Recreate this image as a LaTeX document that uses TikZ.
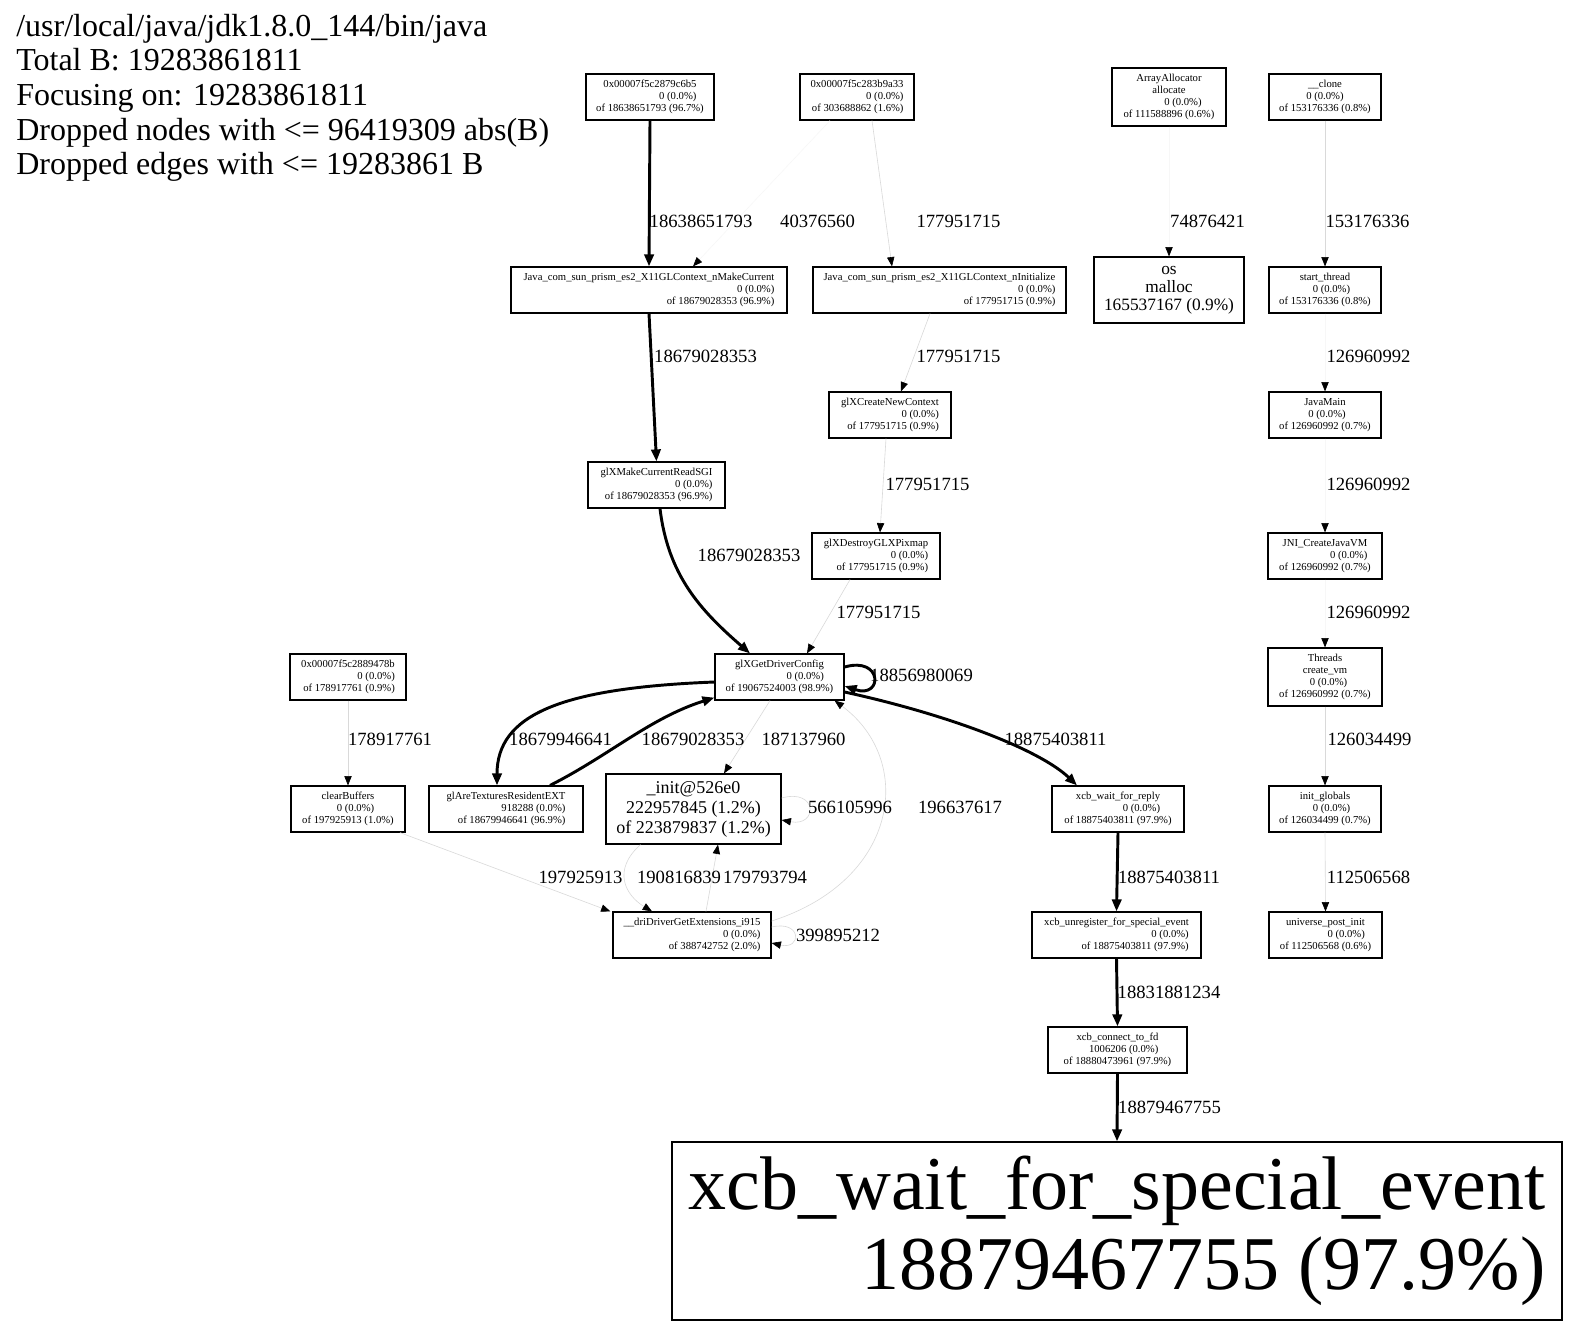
\documentclass[tikz,border=0pt]{standalone}
\usepackage{fontspec}
\setmainfont{Liberation Serif}
\usetikzlibrary{arrows.meta,calc}
\begin{document}
\begin{tikzpicture}[x=0.75pt,y=-0.75pt,
  box/.style={draw, line width=0.9pt, align=center, inner sep=0pt, font=\fontsize{8}{9}\selectfont},
  sz/.style 2 args={minimum width=#1*0.75pt, minimum height=#2*0.75pt},
  mid/.style={draw, line width=0.9pt, align=center, inner sep=0pt, font=\fontsize{13.5}{15}\selectfont},
  hdr/.style={anchor=base west, inner sep=0pt, font=\fontsize{24}{26}\selectfont},
  lab/.style={inner sep=0pt, font=\fontsize{14}{16}\selectfont},
  thk/.style={line width=2.2pt, -{Triangle[length=9pt,width=7pt]}},
  thn/.style={line width=0.45pt, draw=black!15, -{Triangle[length=7pt,width=5.5pt,color=black]}},
  ghost/.style={line width=0.45pt, draw=black!3, -{Triangle[length=7pt,width=5.5pt,color=black]}},
]
\useasboundingbox (0,0) rectangle (1569,1327);
\fill[white] (0,0) rectangle (1569,1327);

% header
\node[hdr] (h1) at (16,37) {/usr/local/java/jdk1.8.0\_144/bin/java};
\node[hdr] (h2) at (16,71) {Total B: 19283861811};
\node[hdr] (h3) at (16,106) {Focusing on: 19283861811};
\node[hdr] (h4) at (16,141) {Dropped nodes with <= 96419309 abs(B)};
\node[hdr] (h5) at (16,175) {Dropped edges with <= 19283861 B};

% nodes
\node[box,sz={128}{46}] (n1) at (650,97) {0x00007f5c2879c6b5\\\hfill 0 (0.0\%)\\\hfill of 18638651793 (96.7\%)};
\node[box,sz={114}{46}] (n2) at (857,97) {0x00007f5c283b9a33\\\hfill 0 (0.0\%)\\\hfill of 303688862 (1.6\%)};
\node[box,sz={114}{58}] (n3) at (1169,97) {ArrayAllocator\\allocate\\\hfill 0 (0.0\%)\\\hfill of 111588896 (0.6\%)};
\node[box,sz={112}{46}] (n4) at (1325,97) {\_\_clone\\\hfill 0 (0.0\%)\\\hfill of 153176336 (0.8\%)};
\node[box,sz={276}{46}] (n5) at (649,290) {Java\_com\_sun\_prism\_es2\_X11GLContext\_nMakeCurrent\\\hfill 0 (0.0\%)\\\hfill of 18679028353 (96.9\%)};
\node[box,sz={253}{46}] (n6) at (939.5,290) {Java\_com\_sun\_prism\_es2\_X11GLContext\_nInitialize\\\hfill 0 (0.0\%)\\\hfill of 177951715 (0.9\%)};
\node[box,sz={150}{66},font=\fontsize{13}{13.5}\selectfont] (n7) at (1169,290) {os\\malloc\\\hfill 165537167 (0.9\%)};
\node[box,sz={112}{46}] (n8) at (1325,290) {start\_thread\\\hfill 0 (0.0\%)\\\hfill of 153176336 (0.8\%)};
\node[box,sz={122}{46}] (n9) at (890,415) {glXCreateNewContext\\\hfill 0 (0.0\%)\\\hfill of 177951715 (0.9\%)};
\node[box,sz={112}{46}] (n10) at (1325,415) {JavaMain\\\hfill 0 (0.0\%)\\\hfill of 126960992 (0.7\%)};
\node[box,sz={137}{46}] (n11) at (656.5,485) {glXMakeCurrentReadSGI\\\hfill 0 (0.0\%)\\\hfill of 18679028353 (96.9\%)};
\node[box,sz={128}{46}] (n12) at (876,556) {glXDestroyGLXPixmap\\\hfill 0 (0.0\%)\\\hfill of 177951715 (0.9\%)};
\node[box,sz={114}{46}] (n13) at (1325,556) {JNI\_CreateJavaVM\\\hfill 0 (0.0\%)\\\hfill of 126960992 (0.7\%)};
\node[box,sz={116}{46}] (n14) at (348,677) {0x00007f5c2889478b\\\hfill 0 (0.0\%)\\\hfill of 178917761 (0.9\%)};
\node[box,sz={129}{46}] (n15) at (779.5,677) {glXGetDriverConfig\\\hfill 0 (0.0\%)\\\hfill of 19067524003 (98.9\%)};
\node[box,sz={114}{58}] (n16) at (1325,677) {Threads\\create\_vm\\\hfill 0 (0.0\%)\\\hfill of 126960992 (0.7\%)};
\node[box,sz={114}{46}] (n17) at (348,809) {clearBuffers\\\hfill 0 (0.0\%)\\\hfill of 197925913 (1.0\%)};
\node[box,sz={154}{46}] (n18) at (506,809) {glAreTexturesResidentEXT\\\hfill 918288 (0.0\%)\\\hfill of 18679946641 (96.9\%)};
\node[mid,sz={175}{70}] (n19) at (693.5,809) {\_init@526e0\\\hfill 222957845 (1.2\%)\\\hfill of 223879837 (1.2\%)};
\node[box,sz={132}{46}] (n20) at (1118,809) {xcb\_wait\_for\_reply\\\hfill 0 (0.0\%)\\\hfill of 18875403811 (97.9\%)};
\node[box,sz={112}{46}] (n21) at (1325,809) {init\_globals\\\hfill 0 (0.0\%)\\\hfill of 126034499 (0.7\%)};
\node[box,sz={158}{46}] (n22) at (692,935) {\_\_driDriverGetExtensions\_i915\\\hfill 0 (0.0\%)\\\hfill of 388742752 (2.0\%)};
\node[box,sz={169}{46}] (n23) at (1116.5,935) {xcb\_unregister\_for\_special\_event\\\hfill 0 (0.0\%)\\\hfill of 18875403811 (97.9\%)};
\node[box,sz={113}{46}] (n24) at (1325.5,935) {universe\_post\_init\\\hfill 0 (0.0\%)\\\hfill of 112506568 (0.6\%)};
\node[box,sz={139}{46}] (n25) at (1117.5,1050) {xcb\_connect\_to\_fd\\\hfill 1006206 (0.0\%)\\\hfill of 18880473961 (97.9\%)};
\node[box,sz={890}{178},font=\fontsize{57}{60}\selectfont] (n26) at (1117,1231) {xcb\_wait\_for\_special\_event\\\hfill 18879467755 (97.9\%)};

% edges
\draw[thk] (n1.south) -- (n5.north);
\draw[ghost] ($(n2.south)+(-27,0)$) -- ($(n5.north)+(44,0)$);
\draw[thn] ($(n2.south)+(15,0)$) -- ($(n6.north)+(-47.5,0)$);
\draw[ghost] (n3.south) -- (n7.north);
\draw[thn] (n4.south) -- (n8.north);
\draw[thk] (n5.south) -- (n11.north);
\draw[thn] ($(n6.south)+(-9.5,0)$) -- ($(n9.north)+(11,0)$);
\draw[ghost] (n8.south) -- (n10.north);
\draw[thn] ($(n9.south)+(-4,0)$) -- ($(n12.north)+(4,0)$);
\draw[ghost] (n10.south) -- (n13.north);
\draw[thk] ($(n11.south)+(3.5,0)$) .. controls (668,575) and (700,610) .. ($(n15.north)+(-29.5,0)$);
\draw[thn] ($(n12.south)+(-26,0)$) -- ($(n15.north)+(27.5,0)$);
\draw[ghost] (n13.south) -- (n16.north);
\draw[thk] ($(n15.east)+(0,-10)$) .. controls (883,656) and (883,699) .. ($(n15.east)+(0,9)$);
\draw[thk] ($(n15.west)+(0,5)$) .. controls (560,688) and (497,715) .. ($(n18.north)+(-9,0)$);
\draw[thk] ($(n18.north)+(44,0)$) .. controls (610,755) and (650,718) .. ($(n15.south west)+(0,-3)$);
\draw[thn] ($(n15.south)+(-9.5,0)$) -- ($(n19.north)+(30.5,0)$);
\draw[thk] ($(n15.east)+(0,15)$) .. controls (950,715) and (1040,750) .. ($(n20.north)+(-41,0)$);
\draw[thn] (n14.south) -- (n17.north);
\draw[thn] ($(n19.east)+(0,-11)$) .. controls (818,788) and (818,827) .. ($(n19.east)+(0,11)$);
\draw[thn] ($(n17.south)+(52,0)$) -- ($(n22.north west)+(-2,0)$);
\draw[thn] ($(n19.south)+(-53,0)$) .. controls (612,870) and (625,895) .. ($(n22.north)+(-40,0)$);
\draw[thn] ($(n22.north)+(14,0)$) -- ($(n19.south)+(24.5,0)$);
\draw[thn] ($(n22.east)+(0,-14)$) .. controls (900,880) and (915,760) .. ($(n15.south east)+(-10,0)$);
\draw[thn] ($(n22.east)+(0,-8)$) .. controls (802,920) and (802,950) .. ($(n22.east)+(0,8)$);
\draw[thn] (n16.south) -- (n21.north);
\draw[thk] (n20.south) -- (n23.north);
\draw[thn] (n21.south) -- (n24.north);
\draw[thk] (n23.south) -- (n25.north);
\draw[thk] (n25.south) -- (n26.north);

% edge labels
\node[lab] (t1) at (701,221) {18638651793};
\node[lab] (t2) at (817.5,221) {40376560};
\node[lab] (t3) at (958.5,221) {177951715};
\node[lab] (t4) at (1207.5,221) {74876421};
\node[lab] (t5) at (1367.5,221) {153176336};
\node[lab] (t6) at (705.5,356) {18679028353};
\node[lab] (t7) at (958.5,356) {177951715};
\node[lab] (t8) at (1368.5,356) {126960992};
\node[lab] (t9) at (927.5,484) {177951715};
\node[lab] (t10) at (1368.5,484) {126960992};
\node[lab] (t11) at (749,555) {18679028353};
\node[lab] (t12) at (878.5,612) {177951715};
\node[lab] (t13) at (1368.5,612) {126960992};
\node[lab] (t14) at (921.5,675) {18856980069};
\node[lab] (t15) at (390,739) {178917761};
\node[lab] (t16) at (560.5,739) {18679946641};
\node[lab] (t17) at (693,739) {18679028353};
\node[lab] (t18) at (803.5,739) {187137960};
\node[lab] (t19) at (1055.5,739) {18875403811};
\node[lab] (t20) at (1369.5,739) {126034499};
\node[lab] (t21) at (850,807) {566105996};
\node[lab] (t22) at (960,807) {196637617};
\node[lab] (t23) at (580.5,877) {197925913};
\node[lab] (t24) at (679,877) {190816839};
\node[lab] (t25) at (765,877) {179793794};
\node[lab] (t26) at (1169,877) {18875403811};
\node[lab] (t27) at (1368.5,877) {112506568};
\node[lab] (t28) at (838,935) {399895212};
\node[lab] (t29) at (1169,992) {18831881234};
\node[lab] (t30) at (1169.5,1107) {18879467755};
\end{tikzpicture}
\end{document}
